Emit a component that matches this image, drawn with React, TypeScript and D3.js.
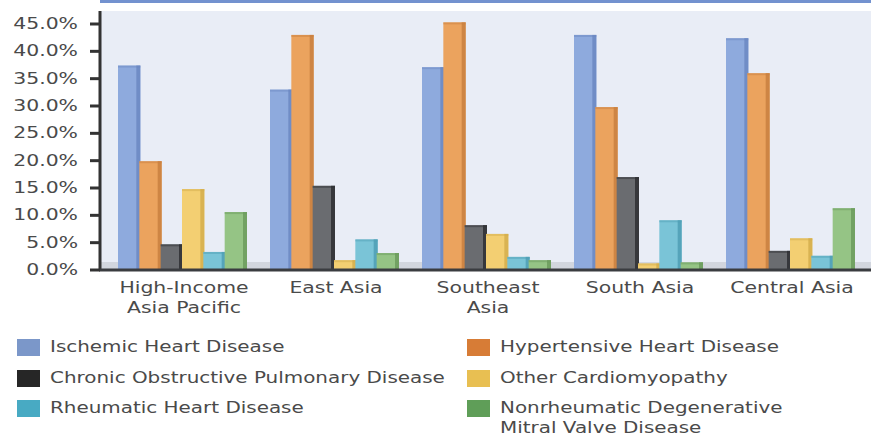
import React from "react";
import * as d3 from "d3";

// Regions and disease series (share of CVD deaths, %)
const regions = ["High-Income\nAsia Pacific", "East Asia", "Southeast\nAsia", "South Asia", "Central Asia"];
const seriesNames = [
  "Ischemic Heart Disease",
  "Hypertensive Heart Disease",
  "Chronic Obstructive Pulmonary Disease",
  "Other Cardiomyopathy",
  "Rheumatic Heart Disease",
  "Nonrheumatic Degenerative\nMitral Valve Disease",
];
const ischemic = [37.4, 33.0, 37.1, 43.0, 42.4];
const hypertensive = [19.9, 43.0, 45.3, 29.8, 36.0];
const copd = [4.7, 15.4, 8.2, 17.0, 3.5];
const otherCardio = [14.8, 1.8, 6.6, 1.2, 5.8];
const rheumatic = [3.3, 5.6, 2.4, 9.1, 2.6];
const nonrheumatic = [10.6, 3.1, 1.8, 1.4, 11.3];
const yTicks = [0, 5, 10, 15, 20, 25, 30, 35, 40, 45];

const seriesValues = [ischemic, hypertensive, copd, otherCardio, rheumatic, nonrheumatic];
const barFill = ["#8eaadd", "#eba35e", "#6a6c70", "#f3cf72", "#7ac4d7", "#95c485"];
const barEdge = ["#6b88c2", "#c98040", "#2e2f33", "#d4ae4c", "#4f9fb5", "#6c9c5d"];
const legendFill = ["#7b97c9", "#d77c36", "#262626", "#e8bf52", "#48aac3", "#5f9e58"];

const W = 871;
const H = 436;
const SX = 1.36; // the reference text is horizontally stretched
const FONT = "DejaVu Sans";
const TEXT = "#4a4a4a";

export default function App() {
  const y = d3.scaleLinear().domain([0, 45]).range([270, 24]);
  const x0 = d3.scaleBand<number>().domain(d3.range(regions.length)).range([106, 866]);
  const x1 = d3.scaleBand<number>().domain(d3.range(seriesNames.length)).range([12, 140]);
  const bw = x1.bandwidth();

  const legendRows = [347, 378, 408];
  const legendCols = [17, 467];

  return (
    <svg
      width={W}
      height={H}
      style={{ position: "fixed", left: 0, top: 0, background: "#fff" }}
      fontFamily={FONT}
    >
      {/* header band and plot area */}
      <rect x={100} y={0} width={W - 100} height={3} fill="#7392cf" />
      <rect x={101} y={11} width={W - 101} height={259} fill="#e9edf6" />
      <rect x={101} y={262} width={W - 101} height={8} fill="#c9cdd6" opacity={0.75} />

      {/* bars */}
      {regions.map((_, ri) => (
        <g key={ri} transform={`translate(${x0(ri)},0)`}>
          {seriesValues.map((vals, si) => {
            const bx = x1(si) as number;
            const top = y(vals[ri]);
            const h = y(0) - top;
            return (
              <g key={si}>
                <rect x={bx} y={top} width={bw + 1} height={h} fill={barFill[si]} />
                <rect x={bx + bw - 3} y={top} width={4} height={h} fill={barEdge[si]} opacity={0.85} />
                <rect x={bx} y={top} width={bw + 1} height={2} fill={barEdge[si]} opacity={0.5} />
              </g>
            );
          })}
        </g>
      ))}

      {/* axes */}
      <line x1={100} x2={100} y1={11} y2={271} stroke="#333" strokeWidth={3} />
      <line x1={99} x2={W} y1={270} y2={270} stroke="#3a3c40" strokeWidth={3} />
      {yTicks.map((t) => (
        <g key={t}>
          <line x1={90} x2={100} y1={y(t)} y2={y(t)} stroke="#333" strokeWidth={3} />
          <text
            transform={`translate(78,${y(t) + 5}) scale(${SX},1)`}
            textAnchor="end"
            fontSize={15}
            fill={TEXT}
          >
            {`${t.toFixed(1)}%`}
          </text>
        </g>
      ))}

      {/* category labels */}
      {regions.map((r, ri) => {
        const cx = (x0(ri) as number) + x0.bandwidth() / 2 + 2;
        return r.split("\n").map((line, li) => (
          <text
            key={`${ri}-${li}`}
            transform={`translate(${cx},${293 + li * 20}) scale(${SX},1)`}
            textAnchor="middle"
            fontSize={15}
            fill={TEXT}
          >
            {line}
          </text>
        ));
      })}

      {/* legend */}
      {seriesNames.map((name, si) => {
        const lx = legendCols[si % 2];
        const ly = legendRows[Math.floor(si / 2)];
        return (
          <g key={name}>
            <rect x={lx} y={ly - 8} width={23} height={17} fill={legendFill[si]} />
            {name.split("\n").map((line, li) => (
              <text
                key={li}
                transform={`translate(${lx + 33},${ly + 5 + li * 20}) scale(1.33,1)`}
                fontSize={15}
                fill={TEXT}
              >
                {line}
              </text>
            ))}
          </g>
        );
      })}
    </svg>
  );
}
